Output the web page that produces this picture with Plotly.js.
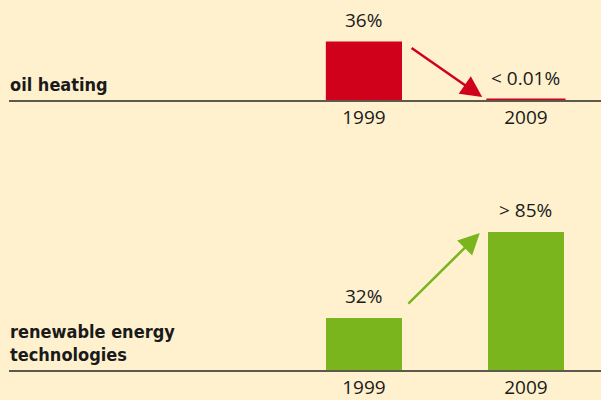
<!DOCTYPE html>
<html><head><meta charset="utf-8">
<script src="https://cdn.plot.ly/plotly-3.0.1.min.js"></script>
<style>html,body{margin:0;padding:0;background:#FFF1CE;}#chart{width:601px;height:400px;}</style>
</head><body><div id="chart"></div>
<script>
// ---- data ----
const years = ['1999', '2009'];
const oilValues = [36, 0.01];
const oilLabels = ['36%', '< 0.01%'];
const renewValues = [32, 85];
const renewLabels = ['32%', '> 85%'];
const panelTitles = ['oil heating', 'renewable energy<br>technologies'];

// ---- style ----
const RED = '#D0021B', GREEN = '#7AB51E', BG = '#FFF1CE', INK = '#1a1a1a';
const PX_PER_UNIT = 1.625;
const numFont = {family:'"Open Sans", sans-serif', size:19, color:INK};

const traces = [
  {type:'bar', x: [0,1], y: oilValues, xaxis:'x', yaxis:'y', width:0.47,
   marker:{color:RED, line:{color:RED, width:[0,3]}}, hoverinfo:'skip'},
  {type:'bar', x: [0,1], y: renewValues, xaxis:'x2', yaxis:'y2', width:0.47,
   marker:{color:GREEN, line:{width:0}}, hoverinfo:'skip'}
];

const xr = [-2.19, 1.463];
const xbase = {type:'linear', range:xr, domain:[0.015,1], showgrid:false, zeroline:false,
  showline:true, linecolor:'#5c5a4c', linewidth:1.5, ticks:'', tickmode:'array', tickvals:[0,1], ticktext:years,
  tickfont:numFont, fixedrange:true};
const ybase = {showgrid:false, zeroline:false, showticklabels:false, showline:false, fixedrange:true};

const annotations = [];
function addValueLabels(labels, values, xa, ya) {
  labels.forEach((t, i) => annotations.push({x: i, y: values[i], xref:xa, yref:ya,
    text: t, showarrow:false, yanchor:'bottom', yshift:7, font:numFont}));
}
addValueLabels(oilLabels, oilValues, 'x', 'y');
addValueLabels(renewLabels, renewValues, 'x2', 'y2');

// trend arrows (derived from bar values)
annotations.push({xref:'x', yref:'y', axref:'x', ayref:'y',
  x: 0.73, y: oilValues[1] + 1.8, ax: 0.285, ay: oilValues[0] - 3.4,
  showarrow:true, arrowhead:2, arrowsize:1.7, arrowwidth:2.5, arrowcolor:RED, text:''});
annotations.push({xref:'x2', yref:'y2', axref:'x2', ayref:'y2',
  x: 0.715, y: renewValues[1] - 0.7, ax: 0.265, ay: renewValues[0] + 8,
  showarrow:true, arrowhead:2, arrowsize:1.7, arrowwidth:2.5, arrowcolor:GREEN, text:''});

// panel titles
const titleFont = {family:'"DejaVu Sans Condensed", "DejaVu Sans", sans-serif', size:18, color:INK};
annotations.push({xref:'paper', yref:'paper', x:0.015, y:0.75, xanchor:'left', yanchor:'bottom', yshift:3, xshift:-1,
  text:'<b>'+panelTitles[0]+'</b>', showarrow:false, align:'left', font:titleFont});
annotations.push({xref:'paper', yref:'paper', x:0.015, y:0.075, xanchor:'left', yanchor:'bottom', yshift:3, xshift:-1,
  text:'<b>'+panelTitles[1]+'</b>', showarrow:false, align:'left', font:titleFont});

const layout = {
  width:601, height:400, margin:{l:0, r:0, t:0, b:0},
  paper_bgcolor:BG, plot_bgcolor:BG, showlegend:false, bargap:0,
  xaxis: Object.assign({}, xbase, {anchor:'y'}),
  yaxis: Object.assign({}, ybase, {domain:[0.75, 1.0], range:[0, 100/PX_PER_UNIT]}),
  xaxis2: Object.assign({}, xbase, {anchor:'y2'}),
  yaxis2: Object.assign({}, ybase, {domain:[0.075, 0.5], range:[0, 170/PX_PER_UNIT]}),
  annotations: annotations
};
Plotly.newPlot('chart', traces, layout, {displayModeBar:false, staticPlot:true});
</script></body></html>
